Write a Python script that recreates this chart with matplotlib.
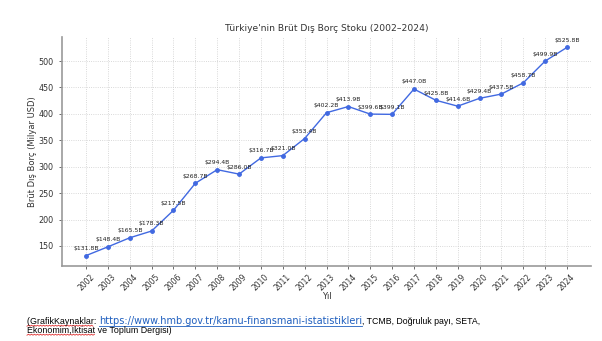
import numpy as np
import matplotlib

matplotlib.use("Agg")
import matplotlib.pyplot as plt

years = list(range(2002, 2025))
debt = [131.8, 148.4, 165.5, 178.3, 217.5, 268.7, 294.4, 286.0, 316.7, 321.0,
        353.4, 402.2, 413.9, 399.6, 399.1, 447.0, 425.8, 414.6, 429.4, 437.5,
        458.7, 499.9, 525.8]
yticks = [150, 200, 250, 300, 350, 400, 450, 500]

title = "Türkiye'nin Brüt Dış Borç Stoku (2002–2024)"
xlabel = "Yıl"
ylabel = "Brüt Dış Borç (Milyar USD)"
caption_head = "(GrafikKaynaklar: "
caption_url = "https://www.hmb.gov.tr/kamu-finansmani-istatistikleri"
caption_tail = ", TCMB, Doğruluk payı, SETA,"
caption_line2 = "Ekonomim,İktisat ve Toplum Dergisi)"

W, H = 602, 341
fig = plt.figure(figsize=(W / 100, H / 100), dpi=100)
fig.patch.set_facecolor("white")

ax = fig.add_axes([62 / W, 1 - 266 / H, (591 - 62) / W, (266 - 37) / H])
ax.plot(years, debt, color="#4169e1", marker="o", markersize=2.5, linewidth=1.0)
for x, v in zip(years, debt):
    ax.annotate(f"${v:.1f}B", (x, v), textcoords="offset points", xytext=(0, 4),
                ha="center", fontsize=4.4, color="#222222")

ax.set_xticks(years)
ax.set_xticklabels([str(y) for y in years], rotation=45, fontsize=5.5)
ax.set_yticks(yticks)
ax.tick_params(axis="y", labelsize=5.8, length=2.5, width=0.5, pad=3.5, colors="#333333")
ax.tick_params(axis="x", length=2.5, width=0.5, pad=2, colors="#333333")
ax.grid(True, linestyle=":", linewidth=0.6, color="#cccccc")
ax.set_axisbelow(True)
for side in ["top", "right"]:
    ax.spines[side].set_visible(False)
for side in ["left", "bottom"]:
    ax.spines[side].set_color("#999999")
    ax.spines[side].set_linewidth(1.2)

ax.set_title(title, fontsize=6.6, color="#333333", pad=4)
ax.set_xlabel(xlabel, fontsize=6, color="#333333", labelpad=0)
ax.set_ylabel(ylabel, fontsize=6, color="#333333", labelpad=1)

# caption below the chart, drawn in pieces like the document text
fig.canvas.draw()
renderer = fig.canvas.get_renderer()
cap_font = "Liberation Sans"
x0 = 27 / W
y1 = 1 - 324 / H
y2 = 1 - 333 / H
t1 = fig.text(x0, y1, caption_head, fontsize=6.4, family=cap_font, color="black")
bb1 = t1.get_window_extent(renderer)
t2 = fig.text(bb1.x1 / W, y1, caption_url, fontsize=7.05, family="DejaVu Sans",
              color="#1f5fbf")
bb2 = t2.get_window_extent(renderer)
t3 = fig.text(bb2.x1 / W, y1, caption_tail, fontsize=6.3, family=cap_font, color="black")
t4 = fig.text(x0, y2, caption_line2, fontsize=6.4, family=cap_font, color="black")

# link underline
fig.add_artist(plt.Line2D([bb2.x0 / W, bb2.x1 / W], [y1 - 1.5 / H, y1 - 1.5 / H],
                          color="#1f5fbf", linewidth=0.6))


def squiggle(x_start, x_end, y):
    xs = np.arange(x_start, x_end, 1.5)
    ys = y + np.where(np.arange(len(xs)) % 2 == 0, 0.0, 1.0)
    fig.add_artist(plt.Line2D(xs / W, ys / H, color="#e03030", linewidth=0.6))


word = fig.text(0, 0, "(GrafikKaynaklar", fontsize=6.4, family=cap_font)
wbb = word.get_window_extent(renderer)
word.remove()
squiggle(bb1.x0, bb1.x0 + wbb.width, y1 * H - 2.2)
word = fig.text(0, 0, "Ekonomim,İktisat", fontsize=6.4, family=cap_font)
wbb = word.get_window_extent(renderer)
word.remove()
squiggle(x0 * W, x0 * W + wbb.width, y2 * H - 2.2)

fig.savefig("out.png", dpi=100, facecolor="white")
